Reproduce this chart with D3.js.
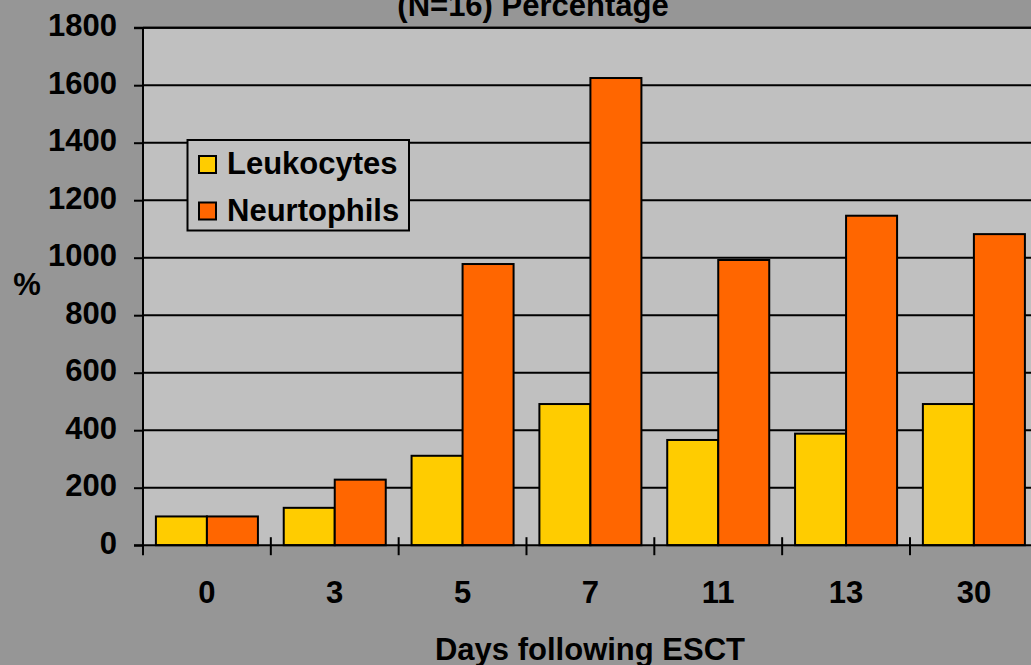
<!DOCTYPE html>
<html>
<head>
<meta charset="utf-8">
<script src="https://cdn.jsdelivr.net/npm/d3@7/dist/d3.min.js"></script>
<style>
  html, body { margin: 0; padding: 0; background: #969696; }
  svg { display: block; }
  text { font-family: "Liberation Sans", Arial, sans-serif; font-weight: bold; fill: #000; }
</style>
</head>
<body>
<svg id="chart" width="1031" height="665"></svg>
<script>
const categories = ["0", "3", "5", "7", "11", "13", "30"];
const seriesNames = ["Leukocytes", "Neurtophils"];
const leukocytes = [100, 130, 311, 491, 366, 388, 491];
const neutrophils = [100, 228, 978, 1625, 992, 1146, 1082];
const yTicks = [0, 200, 400, 600, 800, 1000, 1200, 1400, 1600, 1800];
const colors = ["#FFCC00", "#FF6600"];
const titleText = "(N=16) Percentage";
const xTitle = "Days following ESCT";
const yTitle = "%";

const W = 1031, H = 665;
const plotLeft = 143, plotTop = 27.7, plotBottom = 545.2;
const step = 127.83;

const svg = d3.select("#chart");
svg.append("rect").attr("width", W).attr("height", H).attr("fill", "#969696");

const x0 = d3.scaleBand().domain(categories).range([plotLeft, plotLeft + step * categories.length]).padding(0);
const x1 = d3.scaleBand().domain(seriesNames).range([0, x0.bandwidth()]).paddingInner(0).paddingOuter(0.253);
const y = d3.scaleLinear().domain([0, 1800]).range([plotBottom, plotTop]);

// plot area
svg.append("rect").attr("x", plotLeft).attr("y", plotTop).attr("width", W - plotLeft + 5).attr("height", plotBottom - plotTop)
  .attr("fill", "#C0C0C0");

// gridlines
svg.append("g").selectAll("line").data(yTicks.filter(d => d > 0)).join("line")
  .attr("x1", plotLeft).attr("x2", W + 5)
  .attr("y1", d => y(d)).attr("y2", d => y(d))
  .attr("stroke", "#000").attr("stroke-width", 2);

// bars
const seriesData = [leukocytes, neutrophils];
const groups = svg.append("g").selectAll("g").data(categories).join("g")
  .attr("transform", c => `translate(${x0(c)},0)`);
groups.selectAll("rect").data((c, i) => seriesNames.map((s, j) => ({ s, v: seriesData[j][i], j })))
  .join("rect")
  .attr("x", d => x1(d.s))
  .attr("width", x1.bandwidth())
  .attr("y", d => y(d.v))
  .attr("height", d => y(0) - y(d.v))
  .attr("fill", d => colors[d.j])
  .attr("stroke", "#000").attr("stroke-width", 2);

// y axis
const yAxis = svg.append("g").attr("transform", `translate(${plotLeft},0)`)
  .call(d3.axisLeft(y).tickValues(yTicks).tickFormat(d3.format("d")).tickSize(9).tickPadding(17));
yAxis.select(".domain").remove();
yAxis.selectAll(".tick line").attr("stroke", "#000").attr("stroke-width", 2);
yAxis.selectAll(".tick text").attr("font-size", 31).attr("dy", "0.26em")
  .style("font-family", '"Liberation Sans", Arial, sans-serif').style("font-weight", "bold");
svg.append("line").attr("x1", plotLeft).attr("x2", plotLeft).attr("y1", plotTop).attr("y2", plotBottom + 10)
  .attr("stroke", "#000").attr("stroke-width", 2);

// x axis
svg.append("line").attr("x1", plotLeft - 9).attr("x2", W + 5).attr("y1", plotBottom).attr("y2", plotBottom)
  .attr("stroke", "#000").attr("stroke-width", 2);
svg.append("line").attr("x1", plotLeft - 9).attr("x2", W + 5).attr("y1", plotTop).attr("y2", plotTop)
  .attr("stroke", "#000").attr("stroke-width", 2);
svg.append("g").selectAll("line").data(categories.slice(1)).join("line")
  .attr("x1", c => x0(c)).attr("x2", c => x0(c))
  .attr("y1", plotBottom - 8).attr("y2", plotBottom + 10)
  .attr("stroke", "#000").attr("stroke-width", 2);
const xAxis = svg.append("g").attr("transform", `translate(0,${plotBottom})`)
  .call(d3.axisBottom(x0).tickSize(0).tickPadding(0));
xAxis.select(".domain").remove();
xAxis.selectAll(".tick text").attr("font-size", 31).attr("y", 58).attr("dy", 0)
  .style("font-family", '"Liberation Sans", Arial, sans-serif').style("font-weight", "bold");

// titles
svg.append("text").attr("x", 533).attr("y", 16).attr("text-anchor", "middle").attr("font-size", 31).text(titleText);
svg.append("text").attr("x", 590).attr("y", 660).attr("text-anchor", "middle").attr("font-size", 31).text(xTitle);
svg.append("text").attr("x", 27).attr("y", 295).attr("text-anchor", "middle").attr("font-size", 31).text(yTitle);

// legend
const lg = svg.append("g");
lg.append("rect").attr("x", 187.5).attr("y", 140).attr("width", 221.5).attr("height", 90.5)
  .attr("fill", "#C0C0C0").attr("stroke", "#000").attr("stroke-width", 2);
const items = lg.selectAll("g").data(seriesNames).join("g")
  .attr("transform", (d, i) => `translate(0,${i * 46.5})`);
items.append("rect").attr("x", 199).attr("y", 156).attr("width", 17).attr("height", 17)
  .attr("fill", (d, i) => colors[i]).attr("stroke", "#000").attr("stroke-width", 2);
items.append("text").attr("x", 227).attr("y", 174).attr("font-size", 31).text(d => d);
</script>
</body>
</html>
